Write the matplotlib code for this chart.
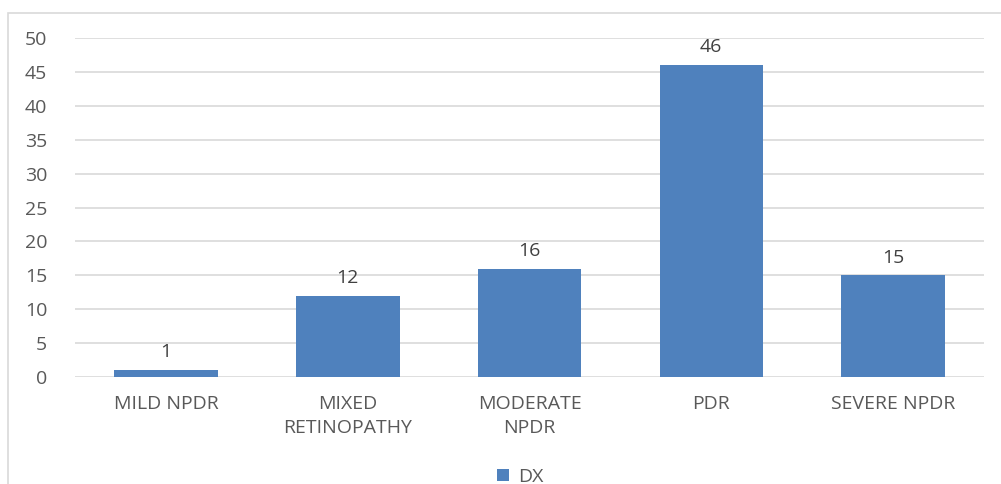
import matplotlib
matplotlib.use("Agg")
import matplotlib.pyplot as plt
from matplotlib.patches import Rectangle

categories = ["MILD NPDR", "MIXED\nRETINOPATHY", "MODERATE\nNPDR", "PDR", "SEVERE NPDR"]
counts = [1, 12, 16, 46, 15]
series_name = "DX"
yticks = [0, 5, 10, 15, 20, 25, 30, 35, 40, 45, 50]

bar_color = "#4F81BD"
text_color = "#595959"

plt.rcParams["font.family"] = ["Open Sans", "DejaVu Sans"]

fig = plt.figure(figsize=(10.01, 4.84), dpi=100)
ax = fig.add_axes([0.075, 0.221, 0.908, 0.7005])

# chart border (Excel-style frame, runs off the right and bottom edge)
fig.patches.append(Rectangle((8 / 1001, -0.05), 1.05, 1 - 13 / 484 + 0.05,
                             transform=fig.transFigure, fill=False,
                             edgecolor="#D9D9D9", linewidth=1.2))

x = range(len(categories))
bars = ax.bar(x, counts, width=0.57, color=bar_color, label=series_name, zorder=3)

for xi, v in zip(x, counts):
    ax.text(xi, v + 1.3, str(v), ha="center", va="bottom",
            fontsize=14, color="#404040")

ax.set_xlim(-0.5, len(categories) - 0.5)
ax.set_ylim(0, 50)
ax.set_yticks(yticks)
ax.set_xticks(list(x))
ax.set_xticklabels(categories, linespacing=1.45)
ax.tick_params(axis="both", length=0, labelsize=14, labelcolor=text_color)
ax.tick_params(axis="x", pad=13)
ax.tick_params(axis="y", pad=20)
ax.grid(axis="y", color="#D9D9D9", linewidth=1.2, zorder=0)
for s in ax.spines.values():
    s.set_visible(False)

fig.legend(handles=[bars], labels=[series_name], loc="center",
           bbox_to_anchor=(0.52, 0.015), frameon=False, fontsize=14,
           labelcolor=text_color, handlelength=0.6, handleheight=0.6,
           handletextpad=0.5)

fig.savefig("out.png", dpi=100)
